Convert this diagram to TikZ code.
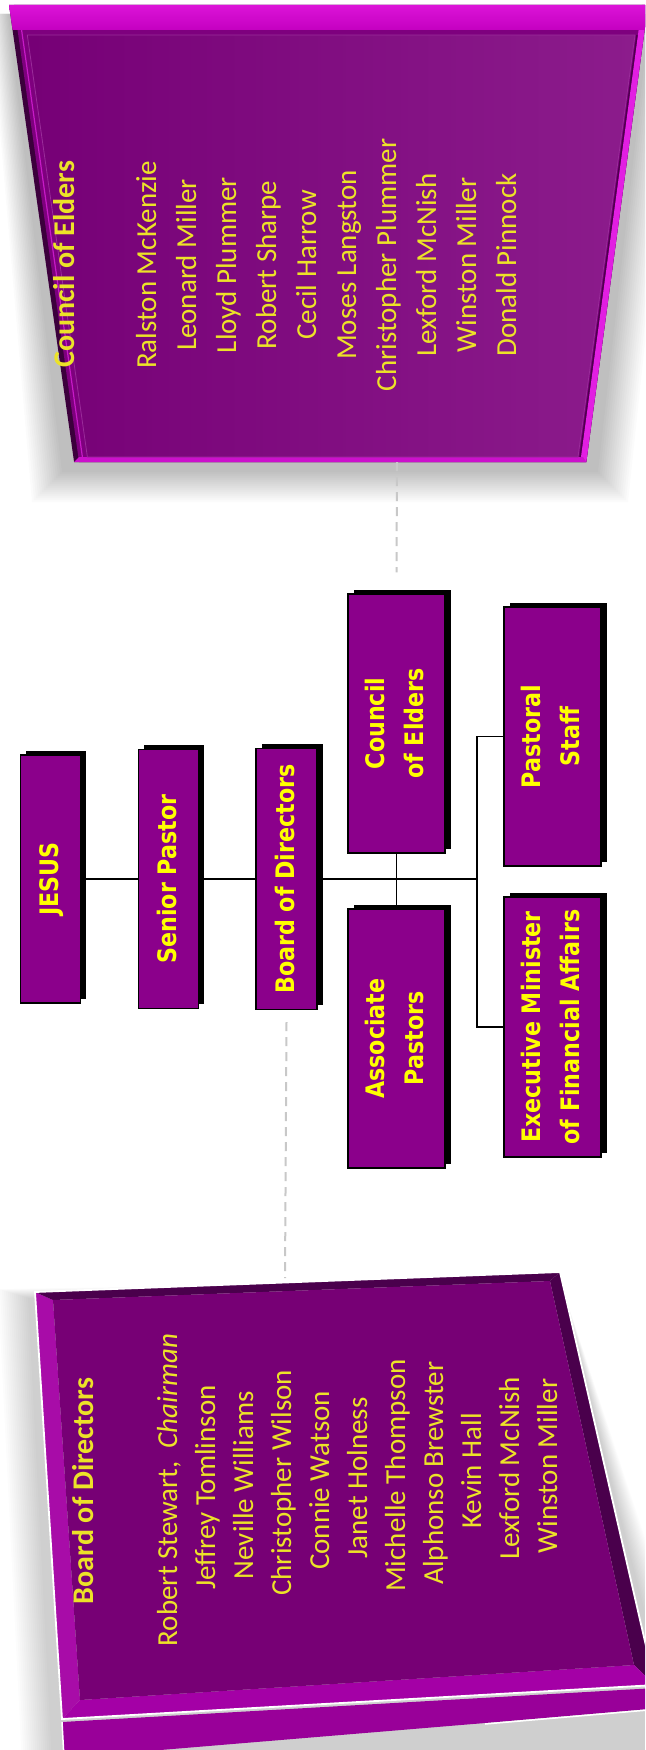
\documentclass[tikz,border=0pt]{standalone}
\usepackage{fontspec}
\usepackage{graphicx}
\usetikzlibrary{shadows}
\newfontfamily\boxfont[FakeStretch=0.87]{DejaVu Sans Bold}
\newfontfamily\panelfont{Carlito}
\definecolor{boxpurple}{HTML}{8B008B}
\definecolor{boxtext}{HTML}{FFFF00}
\definecolor{paneltext}{HTML}{ECE228}
\definecolor{dashgrey}{HTML}{C8C8C8}
\definecolor{cpdark}{HTML}{3C003C}
\definecolor{cpbevel}{HTML}{7E007E}
\definecolor{cphigh}{HTML}{C61AC6}
\definecolor{cpright}{HTML}{E21FE2}
\definecolor{cptopA}{HTML}{DC14D8}
\definecolor{cptopB}{HTML}{C400C0}
\definecolor{cpbottom}{HTML}{CC10CC}
\definecolor{cpinA}{HTML}{760076}
\definecolor{cpinB}{HTML}{8C1C8C}
\definecolor{cpedge}{HTML}{9A2C9A}
\definecolor{cpdarkline}{HTML}{4E004E}
\definecolor{bpin}{HTML}{770075}
\definecolor{bpleft}{HTML}{A80CA8}
\definecolor{bpdark}{HTML}{4A004C}
\definecolor{bpbottom}{HTML}{A400A6}
\definecolor{bpslab}{HTML}{990099}
\newcommand{\rtxt}[1]{\rotatebox{90}{\begin{tabular}{@{}c@{}}#1\end{tabular}}}
\begin{document}
\begin{tikzpicture}[x=1pt,y=-1pt,
  orgbox/.style={draw=black,line width=1.3pt,fill=boxpurple,text=boxtext,inner sep=0pt,
    minimum width=97pt,minimum height=259pt,
    font=\boxfont\fontsize{25.5}{39}\selectfont,
    drop shadow={shadow xshift=5.5pt,shadow yshift=4.5pt,fill=black,opacity=1}},
  narrowbox/.style={orgbox,minimum width=60pt},
  ptitle/.style={rotate=90,anchor=base,text=paneltext,inner sep=0pt,font=\panelfont\bfseries\fontsize{30}{36}\selectfont},
  pname/.style={rotate=90,anchor=base,text=paneltext,inner sep=0pt,font=\panelfont\fontsize{29}{36}\selectfont},
  link/.style={line width=1.6pt,draw=black},
  dashlink/.style={line width=2pt,draw=dashgrey,dash pattern=on 9pt off 6pt}]
\useasboundingbox (0,0) rectangle (645,1750);
\fill[white] (0,0) rectangle (645,1750);
\begin{scope}
\clip (0,0) rectangle (645,1750);
% ---------- Council of Elders panel ----------
\foreach \s in {0,2,...,30}
  \fill[black,opacity=0.014] ({8-0.6*\s},14) -- ({650+\s},14) -- ({598+\s},{472+\s}) -- ({62-\s},{472+\s}) -- cycle;
\fill[cpdark] (9,5) -- (648,5) -- (586.3,462) -- (74.1,462) -- cycle;
\fill[cpbevel] (14,5) -- (648,5) -- (586.3,462) -- (79.1,462) -- cycle;
\draw[cphigh,line width=1.2pt] (21.6,30) -- (82.4,457);
\fill[cpright] (642,5) -- (648,5) -- (586.3,462) -- (580.3,462) -- cycle;
\shade[top color=cptopA,bottom color=cptopB] (9,5) -- (648,5) -- (644.6,30) -- (12.6,30) -- cycle;
\fill[cpbottom] (79,457) -- (583,457) -- (586.3,462) -- (74.1,462) -- cycle;
\shade[left color=cpinA,right color=cpinB] (27.3,35) -- (635,35) -- (578,457) -- (87.4,457) -- cycle;
\draw[cpedge,line width=0.8pt] (27.3,35) -- (635,35) -- (578,457) -- (87.4,457) -- cycle;
\draw[cpdarkline,line width=1.4pt] (637,35) -- (580,457);
\coordinate (cpb) at (397,462);
\node[ptitle] (cetitle) at (74.5,264) {Council of Elders};
\foreach \n [count=\k from 0] in {Ralston McKenzie,Leonard Miller,Lloyd Plummer,Robert Sharpe,Cecil Harrow,Moses Langston,Christopher Plummer,Lexford McNish,Winston Miller,Donald Pinnock}
  \node[pname] (ce\k) at ({156+40*\k},265) {\n};
% ---------- Board of Directors panel ----------
\foreach \s in {0,2,...,30}
  \fill[black,opacity=0.012] ({28-\s},{1298-0.3*\s}) -- (560,1280) -- ({665+\s},1690) -- ({665+\s},1765) -- ({52-\s},1765) -- cycle;
\fill[bpleft] (35,1292) -- (53,1300) -- (80,1700) -- (62,1719) -- cycle;
\fill[bpdark] (35,1292) -- (560,1272) -- (550,1281) -- (53,1300) -- cycle;
\fill[bpdark] (560,1272) -- (655,1685) -- (634,1665) -- (550,1281) -- cycle;
\fill[bpbottom] (62,1719) -- (80,1700) -- (634,1665) -- (655,1685) -- cycle;
\fill[bpin] (53,1300) -- (550,1281) -- (634,1665) -- (80,1700) -- cycle;
\fill[bpslab] (62,1722) -- (656,1688) -- (660,1708) -- (485,1723) -- (64,1758) -- cycle;
\draw[white,line width=1.8pt] (35,1292) -- (560,1272) -- (655,1685) -- (62,1719) -- cycle;
\draw[white,line width=1.5pt] (62,1722) -- (64,1758);
\draw[white,line width=1.5pt] (485,1724) -- (660,1709);
\coordinate (bpt) at (285,1278);
\node[ptitle] (bdtitle) at (93,1491) {Board of Directors};
\foreach \n [count=\k from 0] in {{Robert Stewart,~ \textit{Chairman}},Jeffrey Tomlinson,Neville Williams,Christopher Wilson,Connie Watson,Janet Holness,Michelle Thompson,Alphonso Brewster,Kevin Hall,Lexford McNish,Winston Miller}
  \node[pname] (bd\k) at ({177+38*\k},{1490-2.4*\k}) {\n};
% ---------- Org chart ----------
\node[narrowbox,minimum height=248pt] (jesus) at (50.5,879) {\rtxt{JESUS}};
\node[narrowbox,minimum height=259pt] (senior) at (168.5,879) {\rtxt{Senior Pastor}};
\node[narrowbox,minimum height=261pt,minimum width=61pt] (board) at (286.5,879) {\rtxt{Board of Directors}};
\node[orgbox] (council) at (396.5,723.5) {\rtxt{Council\\of Elders}};
\node[orgbox] (assoc) at (396.5,1038.5) {\rtxt{Associate\\Pastors}};
\node[orgbox] (pastoral) at (552.5,736.5) {\rtxt{Pastoral\\Staff}};
\node[orgbox,minimum height=260pt] (exec) at (552.5,1027) {\rtxt{Executive Minister\\of Financial Affairs}};
\coordinate (br) at (477,879);
\draw[link] (jesus.east) -- (senior.west);
\draw[link] (senior.east) -- (board.west);
\draw[link] (board.east) -- (br);
\draw[link] (council.south) -- (assoc.north);
\draw[link] (pastoral.west) -- (pastoral.west -| br) -- (exec.west -| br) -- (exec.west);
\draw[dashlink] (cpb) -- ([yshift=21pt]council.north);
\draw[dashlink] ([yshift=-12pt]board.south) -- (bpt);
\end{scope}
\end{tikzpicture}
\end{document}
